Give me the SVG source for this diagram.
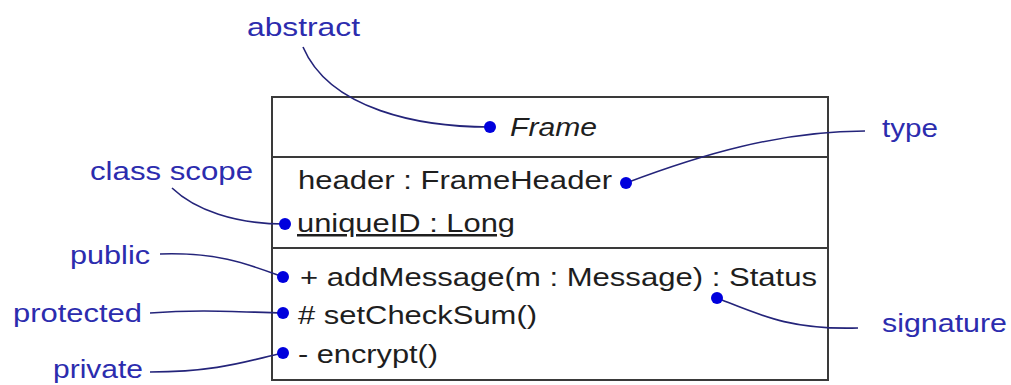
<svg xmlns="http://www.w3.org/2000/svg" width="1011" height="385" viewBox="0 0 1011 385">
  <style>
    .box { fill: #ffffff; stroke: #3a3a3a; stroke-width: 2; }
    .div { stroke: #3a3a3a; stroke-width: 2; }
    .t { font-family: "Liberation Sans", Arial, sans-serif; font-size: 25px; fill: #1e1e1e; }
    .it { font-style: italic; }
    .ul { text-decoration: underline; }
    .lbl { font-family: "Liberation Sans", Arial, sans-serif; font-size: 25px; fill: #2c2cae; }
    .con { fill: none; stroke: #24247a; stroke-width: 1.6; }
    .dot { fill: #0000dd; }
  </style>
  <rect width="1011" height="385" fill="#ffffff"/>

  <g id="frame-class">
    <rect class="box" x="272" y="97" width="556" height="283"/>
    <line class="div" x1="272" y1="157" x2="828" y2="157"/>
    <line class="div" x1="272" y1="248" x2="828" y2="248"/>
    <text class="t it" x="510" y="136" textLength="87" lengthAdjust="spacingAndGlyphs">Frame</text>
    <text class="t" x="298" y="189" textLength="314" lengthAdjust="spacingAndGlyphs">header : FrameHeader</text>
    <text class="t ul" x="297" y="232" textLength="218" lengthAdjust="spacingAndGlyphs">uniqueID : Long</text>
    <text class="t" x="300" y="286" textLength="517" lengthAdjust="spacingAndGlyphs">+ addMessage(m : Message) : Status</text>
    <text class="t" x="298" y="324" textLength="239" lengthAdjust="spacingAndGlyphs"># setCheckSum()</text>
    <text class="t" x="298" y="363" textLength="140" lengthAdjust="spacingAndGlyphs">- encrypt()</text>
  </g>

  <g id="label-abstract"><text class="lbl" x="247" y="36" textLength="113" lengthAdjust="spacingAndGlyphs">abstract</text></g>
  <g id="label-type"><text class="lbl" x="882" y="137" textLength="56" lengthAdjust="spacingAndGlyphs">type</text></g>
  <g id="label-class-scope"><text class="lbl" x="90" y="180" textLength="163" lengthAdjust="spacingAndGlyphs">class scope</text></g>
  <g id="label-public"><text class="lbl" x="70" y="264" textLength="80" lengthAdjust="spacingAndGlyphs">public</text></g>
  <g id="label-protected"><text class="lbl" x="13" y="322" textLength="129" lengthAdjust="spacingAndGlyphs">protected</text></g>
  <g id="label-private"><text class="lbl" x="53" y="378" textLength="90" lengthAdjust="spacingAndGlyphs">private</text></g>
  <g id="label-signature"><text class="lbl" x="882" y="332" textLength="125" lengthAdjust="spacingAndGlyphs">signature</text></g>

  <g id="connectors">
    <path class="con" d="M303,47 C330,110 420,127 490,127"/>
    <path class="con" d="M626,183 C700,155 780,131 865,131"/>
    <path class="con" d="M172,188 C195,210 235,224 285,224"/>
    <path class="con" d="M160,254 C220,252 250,265 283,277"/>
    <path class="con" d="M150,313 C200,309 240,312 283,313"/>
    <path class="con" d="M150,372 C220,372 250,360 283,353"/>
    <path class="con" d="M717,298 C760,315 790,330 858,328"/>
    <circle class="dot" cx="490" cy="127" r="6"/>
    <circle class="dot" cx="626" cy="183" r="6"/>
    <circle class="dot" cx="285" cy="224" r="6"/>
    <circle class="dot" cx="283" cy="277" r="6"/>
    <circle class="dot" cx="283" cy="313" r="6"/>
    <circle class="dot" cx="283" cy="353" r="6"/>
    <circle class="dot" cx="717" cy="298" r="6"/>
  </g>
</svg>
